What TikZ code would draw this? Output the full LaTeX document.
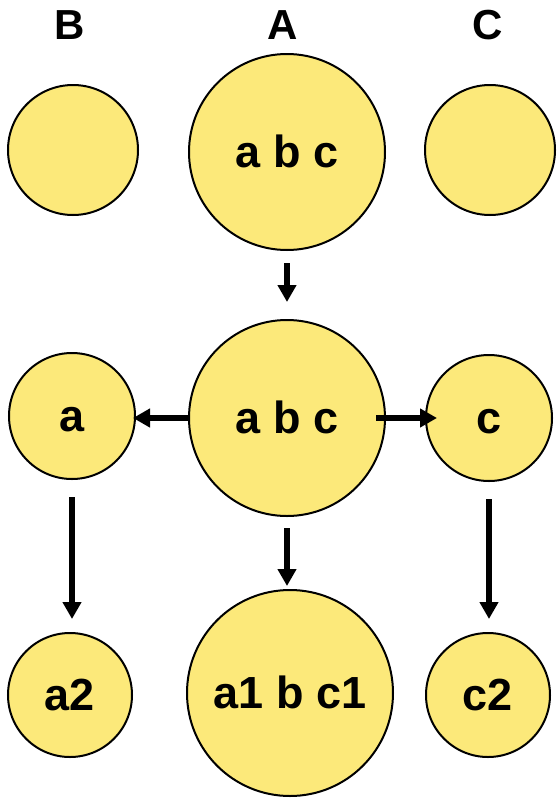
\documentclass[tikz,border=0pt]{standalone}
\usepackage{fontspec}
\setmainfont{Liberation Sans}
\usepackage{tikz}
\usetikzlibrary{arrows.meta, positioning}
\definecolor{setfill}{HTML}{FCE97A}
\tikzstyle{bag} = [circle, draw=black, line width=2pt, fill=setfill,
    inner sep=0pt, text height=30pt, text depth=0pt,
    font=\fontsize{45}{50}\selectfont\bfseries]
\tikzstyle{arrow} = [line width=5.5pt, -{Triangle[length=17pt,width=18pt]}]
\tikzstyle{head} = [font=\fontsize{42}{48}\selectfont\bfseries]

\begin{document}
\begin{tikzpicture}[x=1pt, y=-1pt]
  \useasboundingbox (0,0) rectangle (558,798);

  % column headings
  \node (hB) [head] at (70,25) {B};
  \node (hA) [head] at (283,25) {A};
  \node (hC) [head] at (488,25) {C};

  % top row
  \node (tB) [bag, minimum size=130pt] at (73,150) {};
  \node (tA) [bag, minimum size=196pt] at (287,152) {a b c};
  \node (tC) [bag, minimum size=130pt] at (490,150) {};

  % middle row
  \node (mB) [bag, minimum size=126pt] at (72,416) {a};
  \node (mA) [bag, minimum size=196pt] at (287,418) {a b c};
  \node (mC) [bag, minimum size=126pt] at (489,418) {c};

  % bottom row
  \node (bB) [bag, minimum size=124pt] at (70,695) {a2};
  \node (bA) [bag, minimum size=206pt] at (290,693) {a1 b c1};
  \node (bC) [bag, minimum size=124pt] at (488,695) {c2};

  \draw[arrow, shorten <=12pt, shorten >=17pt] (tA.south) -- (tA.south |- mA.north);
  \draw[arrow, shorten >=-3pt] (mA.west) -- (mA.west -| mB.east);
  \draw[arrow, shorten <=-10pt, shorten >=-12pt] (mA.east) -- (mA.east -| mC.west);
  \draw[arrow, shorten <=17pt, shorten >=13pt] (mB.south) -- (mB.south |- bB.north);
  \draw[arrow, shorten <=11pt, shorten >=3pt] (mA.south) -- (mA.south |- bA.north);
  \draw[arrow, shorten <=17pt, shorten >=13pt] (mC.south) -- (mC.south |- bC.north);

\end{tikzpicture}
\end{document}
